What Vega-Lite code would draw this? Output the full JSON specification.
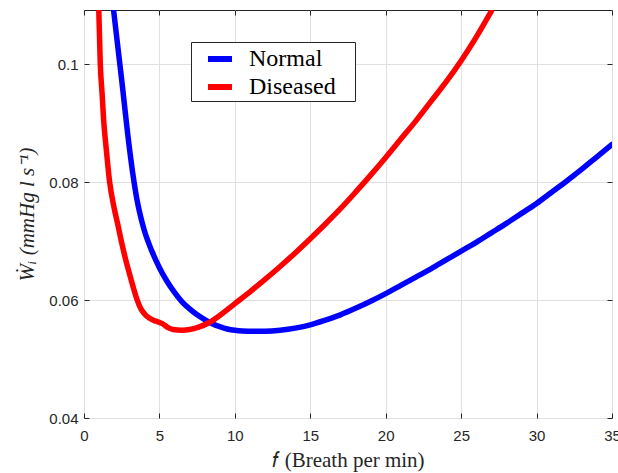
{
  "$schema": "https://vega.github.io/schema/vega-lite/v6.json",
  "width": 528,
  "height": 408,
  "autosize": {"type": "none"},
  "padding": {"left": 84, "top": 10, "right": 6, "bottom": 55},
  "background": "white",
  "config": {"view": {"stroke": "#262626", "strokeWidth": 1}},
  "datasets": {
    "curves": [
      {"case": "Normal", "f": 1.96, "W": 0.1092},
      {"case": "Normal", "f": 2.0, "W": 0.1083},
      {"case": "Normal", "f": 2.5, "W": 0.0973},
      {"case": "Normal", "f": 3.0, "W": 0.086},
      {"case": "Normal", "f": 3.25, "W": 0.0812},
      {"case": "Normal", "f": 3.5, "W": 0.0772},
      {"case": "Normal", "f": 3.75, "W": 0.0742},
      {"case": "Normal", "f": 4.0, "W": 0.0718},
      {"case": "Normal", "f": 4.5, "W": 0.0683},
      {"case": "Normal", "f": 5.0, "W": 0.0655},
      {"case": "Normal", "f": 5.5, "W": 0.0632},
      {"case": "Normal", "f": 6.0, "W": 0.0613},
      {"case": "Normal", "f": 6.5, "W": 0.0597},
      {"case": "Normal", "f": 7.0, "W": 0.0585},
      {"case": "Normal", "f": 7.5, "W": 0.0575},
      {"case": "Normal", "f": 8.0, "W": 0.0567},
      {"case": "Normal", "f": 8.5, "W": 0.056},
      {"case": "Normal", "f": 9.0, "W": 0.0555},
      {"case": "Normal", "f": 9.5, "W": 0.0551},
      {"case": "Normal", "f": 10.0, "W": 0.05487},
      {"case": "Normal", "f": 10.5, "W": 0.05475},
      {"case": "Normal", "f": 11.3, "W": 0.0547},
      {"case": "Normal", "f": 12, "W": 0.05472},
      {"case": "Normal", "f": 13, "W": 0.0549},
      {"case": "Normal", "f": 14, "W": 0.05525},
      {"case": "Normal", "f": 15, "W": 0.0558},
      {"case": "Normal", "f": 16, "W": 0.0566},
      {"case": "Normal", "f": 17, "W": 0.0575},
      {"case": "Normal", "f": 18, "W": 0.0586},
      {"case": "Normal", "f": 19, "W": 0.0598},
      {"case": "Normal", "f": 20, "W": 0.0611},
      {"case": "Normal", "f": 21, "W": 0.0625},
      {"case": "Normal", "f": 22, "W": 0.0639},
      {"case": "Normal", "f": 23, "W": 0.0653},
      {"case": "Normal", "f": 24, "W": 0.0668},
      {"case": "Normal", "f": 25, "W": 0.0683},
      {"case": "Normal", "f": 26, "W": 0.0698},
      {"case": "Normal", "f": 27, "W": 0.0714},
      {"case": "Normal", "f": 28, "W": 0.073},
      {"case": "Normal", "f": 29, "W": 0.0747},
      {"case": "Normal", "f": 30, "W": 0.0764},
      {"case": "Normal", "f": 31, "W": 0.0783},
      {"case": "Normal", "f": 32, "W": 0.0802},
      {"case": "Normal", "f": 33, "W": 0.0822},
      {"case": "Normal", "f": 34, "W": 0.0843},
      {"case": "Normal", "f": 35, "W": 0.0864},
      {"case": "Diseased", "f": 0.98, "W": 0.1092},
      {"case": "Diseased", "f": 1.08, "W": 0.1},
      {"case": "Diseased", "f": 1.2, "W": 0.095},
      {"case": "Diseased", "f": 1.3, "W": 0.0906},
      {"case": "Diseased", "f": 1.48, "W": 0.0855},
      {"case": "Diseased", "f": 1.7, "W": 0.08},
      {"case": "Diseased", "f": 2.0, "W": 0.0756},
      {"case": "Diseased", "f": 2.25, "W": 0.0727},
      {"case": "Diseased", "f": 2.5, "W": 0.0697},
      {"case": "Diseased", "f": 2.75, "W": 0.067},
      {"case": "Diseased", "f": 3.0, "W": 0.0646},
      {"case": "Diseased", "f": 3.25, "W": 0.0623},
      {"case": "Diseased", "f": 3.5, "W": 0.0602},
      {"case": "Diseased", "f": 3.75, "W": 0.0586},
      {"case": "Diseased", "f": 4.0, "W": 0.0577},
      {"case": "Diseased", "f": 4.35, "W": 0.0569},
      {"case": "Diseased", "f": 4.8, "W": 0.0564},
      {"case": "Diseased", "f": 5.2, "W": 0.056},
      {"case": "Diseased", "f": 5.6, "W": 0.0553},
      {"case": "Diseased", "f": 5.9, "W": 0.055},
      {"case": "Diseased", "f": 6.5, "W": 0.0549},
      {"case": "Diseased", "f": 7.0, "W": 0.055},
      {"case": "Diseased", "f": 7.6, "W": 0.0554},
      {"case": "Diseased", "f": 8.3, "W": 0.0562},
      {"case": "Diseased", "f": 9.0, "W": 0.0574},
      {"case": "Diseased", "f": 10, "W": 0.0594},
      {"case": "Diseased", "f": 11, "W": 0.0614},
      {"case": "Diseased", "f": 12, "W": 0.0635},
      {"case": "Diseased", "f": 13, "W": 0.0657},
      {"case": "Diseased", "f": 14, "W": 0.068},
      {"case": "Diseased", "f": 15, "W": 0.0704},
      {"case": "Diseased", "f": 16, "W": 0.0729},
      {"case": "Diseased", "f": 17, "W": 0.0755},
      {"case": "Diseased", "f": 18, "W": 0.0783},
      {"case": "Diseased", "f": 19, "W": 0.0812},
      {"case": "Diseased", "f": 20, "W": 0.0842},
      {"case": "Diseased", "f": 21, "W": 0.0873},
      {"case": "Diseased", "f": 22, "W": 0.0904},
      {"case": "Diseased", "f": 23, "W": 0.0937},
      {"case": "Diseased", "f": 24, "W": 0.097},
      {"case": "Diseased", "f": 25, "W": 0.1006},
      {"case": "Diseased", "f": 26, "W": 0.1046},
      {"case": "Diseased", "f": 27, "W": 0.109}
    ]
  },
  "data": {"name": "curves"},
  "resolve": {"axis": {"x": "independent", "y": "independent"}},
  "layer": [
    {
      "mark": {"type": "line", "strokeWidth": 5.5, "strokeCap": "round", "strokeJoin": "round", "clip": true, "interpolate": "monotone"},
      "encoding": {
        "x": {
          "field": "f", "type": "quantitative",
          "scale": {"domain": [0, 35], "nice": false, "zero": false},
          "axis": {
            "orient": "bottom",
            "values": [0, 5, 10, 15, 20, 25, 30, 35], "format": "d",
            "domain": false, "grid": true, "gridColor": "#e0e0e0",
            "tickColor": "#262626", "tickSize": -5, "labelPadding": 15,
            "labelFont": "Liberation Sans", "labelFontSize": 15, "labelColor": "#262626",
            "labelFlush": false, "labelOverlap": false,
            "title": "𝑓 (Breath per min)", "titleFont": "'Liberation Serif', 'Times New Roman', serif", "titleFontSize": 21,
            "titleFontWeight": "normal", "titleColor": "#262626", "titlePadding": 6
          }
        },
        "y": {
          "field": "W", "type": "quantitative",
          "scale": {"domain": [0.04, 0.1092], "nice": false, "zero": false},
          "axis": {
            "orient": "left",
            "values": [0.04, 0.06, 0.08, 0.1], "format": "~g",
            "domain": false, "grid": true, "gridColor": "#e0e0e0",
            "tickColor": "#262626", "tickSize": -5, "labelPadding": 11,
            "labelFont": "Liberation Sans", "labelFontSize": 15, "labelColor": "#262626",
            "labelFlush": false, "labelOverlap": false,
            "title": "Ẇᵢ (mmHg l s⁻¹)", "titleFont": "'Liberation Serif', 'Times New Roman', serif", "titleFontSize": 21,
            "titleFontStyle": "italic", "titleFontWeight": "normal", "titleColor": "#262626", "titlePadding": 11
          }
        },
        "color": {
          "field": "case", "type": "nominal",
          "scale": {"domain": ["Normal", "Diseased"], "range": ["#0000ff", "#ff0000"]},
          "legend": {
            "orient": "none", "legendX": 107, "legendY": 32, "direction": "vertical",
            "title": ".", "titleOrient": "right", "titleOpacity": 0, "titleFontSize": 12, "titlePadding": 13,
            "fillColor": "white", "strokeColor": "#262626", "padding": 2, "cornerRadius": 0,
            "symbolType": "stroke", "symbolStrokeWidth": 6, "symbolSize": 576, "symbolOffset": 12,
            "labelOffset": 14, "labelFont": "'Liberation Serif', 'Times New Roman', serif", "labelFontSize": 24, "labelColor": "black",
            "rowPadding": 1
          }
        }
      }
    },
    {
      "mark": {"type": "point", "opacity": 0},
      "encoding": {
        "x": {
          "field": "f", "type": "quantitative",
          "axis": {"orient": "top", "values": [0, 5, 10, 15, 20, 25, 30, 35], "labels": false, "domain": false, "grid": false, "tickColor": "#262626", "tickSize": -5, "title": null}
        },
        "y": {
          "field": "W", "type": "quantitative",
          "axis": {"orient": "right", "values": [0.04, 0.06, 0.08, 0.1], "labels": false, "domain": false, "grid": false, "tickColor": "#262626", "tickSize": -5, "title": null}
        }
      }
    }
  ]
}
